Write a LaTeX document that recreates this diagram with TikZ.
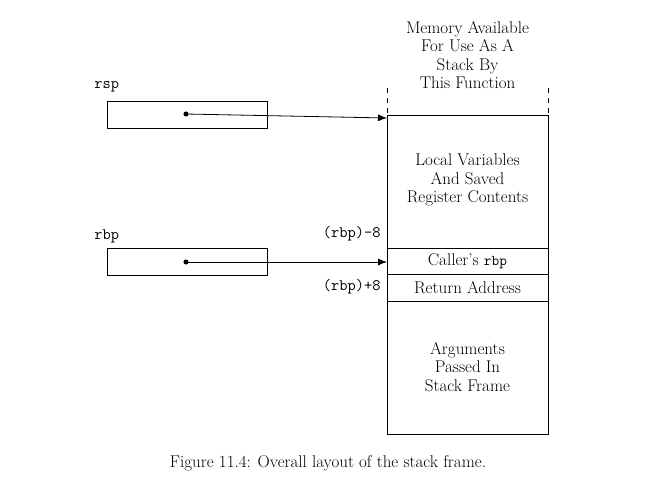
\documentclass[tikz,border=0pt]{standalone}
\usetikzlibrary{arrows.meta}
\begin{document}
\begin{tikzpicture}[x=1pt,y=-1pt,line width=0.8pt,
  txt/.style={font=\fontsize{17}{18.5}\selectfont,align=center,inner sep=0},
  mono/.style={font=\fontsize{16}{18}\selectfont\ttfamily,inner sep=0},
  reg/.style={draw,minimum width=160,minimum height=27,inner sep=0},
  dot/.style={circle,fill,inner sep=1.8},
  arr/.style={-{Latex[length=9pt,width=7pt]}}]
\useasboundingbox (0,0) rectangle (660,483);
\draw (387,115) -- (548,115);
\draw (387,115) -- (387,434) -- (548,434) -- (548,115);
\draw[dash pattern=on 5pt off 5pt] (387,88) -- (387,115);
\draw[dash pattern=on 5pt off 5pt] (548,88) -- (548,115);
\draw (387,248) -- (548,248);
\draw (387,274) -- (548,274);
\draw (387,301) -- (548,301);
\node[txt] (top) at (467.5,55) {Memory Available\\For Use As A\\Stack By\\This Function};
\node[txt] (loc) at (467.5,180) {Local Variables\\And Saved\\Register Contents};
\node[txt] (cal) at (467.5,261) {Caller's {\ttfamily\fontsize{15}{16}\selectfont rbp}};
\node[txt] (ret) at (467.5,288) {Return Address};
\node[txt] (arg) at (467.5,367) {Arguments\\Passed In\\Stack Frame};
\coordinate (rspT) at (387,118);
\coordinate (rbpT) at (387,262);
\node[reg] (rspbox) at (187,114.5) {};
\node[reg] (rbpbox) at (187,261.5) {};
\node[mono,anchor=west] (rsp) at (94,87) {rsp};
\node[mono,anchor=west] (rbp) at (94,236) {rbp};
\node[dot] (d1) at (186,114) {};
\node[dot] (d2) at (186,262) {};
\draw[arr] (d1.center) -- (rspT);
\draw[arr] (d2.center) -- (rbpT);
\node[mono,anchor=east] (m8) at (381,234) {(rbp)-8};
\node[mono,anchor=east] (p8) at (381,287) {(rbp)+8};
\node[txt] (cap) at (328,463) {Figure 11.4: Overall layout of the stack frame.};
\end{tikzpicture}
\end{document}
